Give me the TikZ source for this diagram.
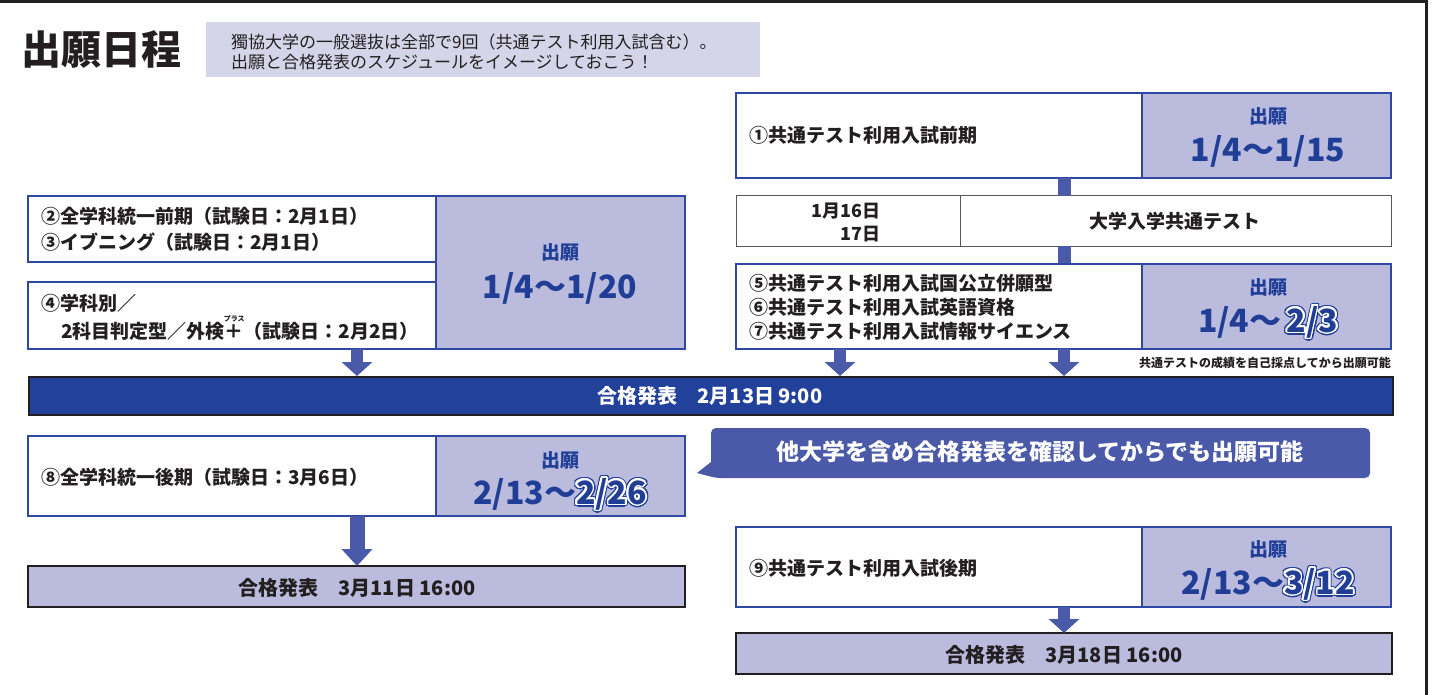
\documentclass[tikz,border=0pt]{standalone}
\usepackage{fontspec}
\setmainfont{Noto Sans CJK JP}
\usetikzlibrary{arrows.meta}
\definecolor{ublue}{RGB}{33,62,150}
\definecolor{bord}{RGB}{46,72,163}
\definecolor{lav}{RGB}{186,187,221}
\definecolor{abl}{RGB}{74,90,168}
\definecolor{bandc}{RGB}{34,65,154}
\definecolor{sublav}{RGB}{213,213,234}
\definecolor{ink}{RGB}{35,31,32}
\newcommand\ringtext[3]{\foreach \ang in {0,22.5,...,337.5}{\pgfmathsetlengthmacro\odx{#2*cos(\ang)}\pgfmathsetlengthmacro\ody{#2*sin(\ang)}\rlap{\kern\odx\raise\ody\hbox{\color{#1}#3}}}}
\newcommand\outl[1]{\ringtext{ublue}{3pt}{#1}\ringtext{white}{1.7pt}{#1}\hbox{\color{ublue}#1}}
\newcommand\rb[2]{\setbox0\hbox{#1}\rlap{\hbox to\wd0{\hss\smash{\raisebox{17pt}{\fontsize{7}{8}\selectfont #2}}\hss}}\box0}
\tikzset{
 wbox/.style={draw=bord, line width=2pt, fill=white, inner sep=0pt, outer sep=0pt, anchor=north west},
 lbox/.style={draw=bord, line width=2pt, fill=lav, inner sep=0pt, outer sep=0pt, anchor=north west},
 gbox/.style={draw=black!65, line width=1pt, fill=white, inner sep=0pt, outer sep=0pt, anchor=north west},
 rband/.style={draw=ink, line width=2pt, fill=lav, inner sep=0pt, outer sep=0pt, anchor=north west},
 body/.style={font=\fontsize{19}{25}\selectfont\bfseries, text=ink, inner sep=0pt, align=left},
 apptxt/.style={font=\fontsize{19}{22}\selectfont\bfseries, text=ublue, inner sep=0pt},
 datetxt/.style={font=\fontsize{32}{36}\selectfont\bfseries, text=ublue, inner sep=0pt},
 bar/.style={draw=abl, line width=13pt},
 darr/.style={draw=abl, line width=12pt, -{Triangle[width=30pt,length=14pt]}},
 barr/.style={draw=abl, line width=15pt, -{Triangle[width=30pt,length=17pt]}},
 restxt/.style={font=\fontsize{20}{24}\selectfont\bfseries, text=ink, inner sep=0pt},
}
\begin{document}
\begin{tikzpicture}[x=1pt,y=-1pt]
\useasboundingbox (0,0) rectangle (1445,695);
% frame
\draw[line width=3pt, ink] (0,1.5) -- (1426.5,1.5) -- (1426.5,695);
% title
\node[anchor=west, inner sep=0pt, font=\fontsize{40}{44}\selectfont\bfseries, text=ink] (title) at (21,50) {出願日程};
\node[fill=sublav, anchor=north west, minimum width=554pt, minimum height=55pt, inner sep=0pt] (sub) at (206,22) {};
\node[anchor=west, inner sep=0pt, align=left, font=\fontsize{17}{20}\selectfont, text=ink] (subt) at (231,52) {獨協大学の一般選抜は全部で9回（共通テスト利用入試含む）。\\出願と合格発表のスケジュールをイメージしておこう！};
% box 1
\node[wbox, minimum width=406pt, minimum height=85pt] (b1) at (736,93) {};
\node[lbox, minimum width=249pt, minimum height=85pt] (b1r) at (1142,93) {};
\node[body, anchor=west] (b1t) at (749,135) {①共通テスト利用入試前期};
\node[apptxt] (b1a) at (1268,116) {出願};
\node[datetxt] (b1d) at (1268,151) {1/4〜1/15};
% test row
\node[gbox, minimum width=224pt, minimum height=50pt] (testl) at (736,196) {};
\node[gbox, minimum width=431pt, minimum height=50pt] (testr) at (960,196) {};
\node[body, align=right, anchor=east, font=\fontsize{18}{23}\selectfont\bfseries] (testd) at (881,222) {1月16日\\17日};
\node[body, font=\fontsize{19}{23}\selectfont\bfseries] (testn) at (1175,221) {大学入学共通テスト};
\coordinate (cx) at (1064,0);
\draw[bar] (b1.south -| cx) -- (testl.north -| cx);
\draw[bar] (testl.south -| cx) -- (1064,264);
% box 5-7
\node[wbox, minimum width=406pt, minimum height=85pt] (b5) at (736,264) {};
\node[lbox, minimum width=249pt, minimum height=85pt] (b5r) at (1142,264) {};
\node[body, anchor=west, font=\fontsize{19}{24}\selectfont\bfseries] (b5t) at (749,307) {⑤共通テスト利用入試国公立併願型\\⑥共通テスト利用入試英語資格\\⑦共通テスト利用入試情報サイエンス};
\node[apptxt] (b5a) at (1268,287) {出願};
\node[datetxt] (b5d) at (1268,322) {1/4〜\,\outl{2/3}};
\node[anchor=east, inner sep=0pt, font=\fontsize{12}{14}\selectfont\bfseries, text=ink] (note) at (1391,363) {共通テストの成績を自己採点してから出願可能};
% left group
\node[wbox, minimum width=408pt, minimum height=66pt] (b23) at (28,196) {};
\node[wbox, minimum width=408pt, minimum height=67pt] (b4) at (28,282) {};
\node[lbox, minimum width=249pt, minimum height=153pt] (bl) at (436,196) {};
\node[body, anchor=west, font=\fontsize{19}{26}\selectfont\bfseries] (b23t) at (41,229) {②全学科統一前期（試験日：2月1日）\\③イブニング（試験日：2月1日）};
\node[body, anchor=west] (b4t1) at (41,303) {④学科別／};
\node[body, anchor=west] (b4t2) at (61,331) {2科目判定型／外検\rb{＋}{プラス}（試験日：2月2日）};
\node[apptxt] (bla) at (560,252) {出願};
\node[datetxt] (bld) at (560,288) {1/4〜1/20};
% band
\node[draw=ink, line width=2pt, fill=bandc, anchor=north west, minimum width=1364pt, minimum height=38pt, inner sep=0pt] (band) at (28,376) {};
\node[restxt, text=white] (bandt) at (710,396) {合格発表　2月13日 9:00};
\coordinate (ax1) at (357,0);
\coordinate (ax2) at (840,0);
\draw[darr] (b4.south -| ax1) -- (band.north -| ax1);
\draw[darr] (b5.south -| ax2) -- (band.north -| ax2);
\draw[darr] (b5.south -| cx) -- (band.north -| cx);
% box 8
\node[wbox, minimum width=408pt, minimum height=80pt] (b8) at (28,436) {};
\node[lbox, minimum width=249pt, minimum height=80pt] (b8r) at (436,436) {};
\node[body, anchor=west] (b8t) at (41,477) {⑧全学科統一後期（試験日：3月6日）};
\node[apptxt] (b8a) at (560,460) {出願};
\node[datetxt] (b8d) at (560,494) {2/13〜\outl{2/26}};
\node[rband, minimum width=657pt, minimum height=41pt] (r8) at (28,566) {};
\node[restxt] (r8t) at (357,588) {合格発表　3月11日 16:00};
\draw[barr] (b8.south -| ax1) -- (r8.north -| ax1);
% bubble
\fill[abl] (697,473) -- (711,462) [rounded corners=5pt] -- (711,428) -- (1370,428) -- (1370,478) -- (716,478) [sharp corners] -- cycle;
\node[inner sep=0pt, font=\fontsize{23}{26}\selectfont\bfseries, text=white] (bub) at (1040,452) {他大学を含め合格発表を確認してからでも出願可能};
% box 9
\node[wbox, minimum width=406pt, minimum height=80pt] (b9) at (736,527) {};
\node[lbox, minimum width=249pt, minimum height=80pt] (b9r) at (1142,527) {};
\node[body, anchor=west] (b9t) at (749,568) {⑨共通テスト利用入試後期};
\node[apptxt] (b9a) at (1268,549) {出願};
\node[datetxt] (b9d) at (1268,584) {2/13〜\outl{3/12}};
\node[rband, minimum width=656pt, minimum height=41pt] (r9) at (736,633) {};
\node[restxt] (r9t) at (1064,655) {合格発表　3月18日 16:00};
\draw[darr] (b9.south -| cx) -- (r9.north -| cx);
\end{tikzpicture}
\end{document}
